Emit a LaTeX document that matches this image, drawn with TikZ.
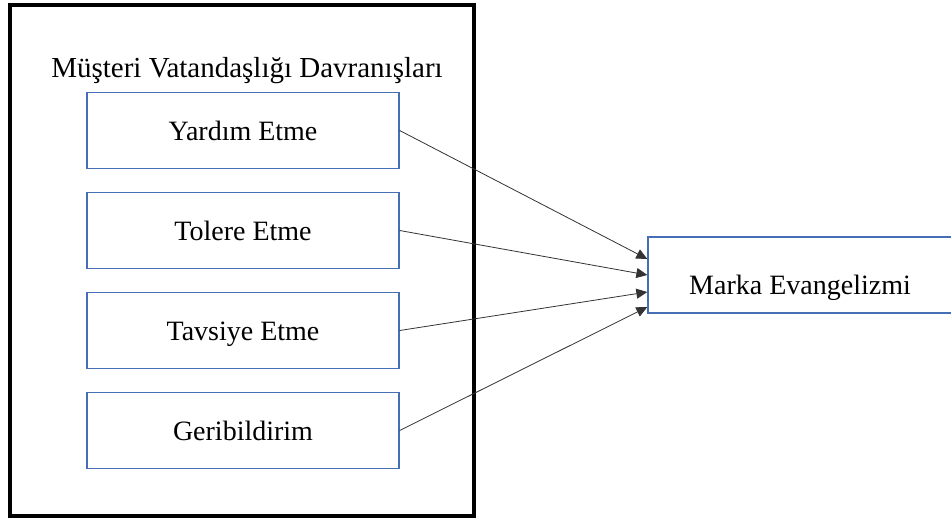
\documentclass[tikz,border=0pt]{standalone}
\usepackage{fontspec}
\setmainfont{Liberation Serif}
\usetikzlibrary{positioning, arrows.meta}
\definecolor{boxblue}{RGB}{70,110,180}

\begin{document}
\begin{tikzpicture}[x=1pt, y=1pt, node distance=100pt,
	item/.style={draw=boxblue, line width=1.3pt, minimum width=312pt, minimum height=76pt,
		inner sep=0pt, text height=20pt, text depth=0pt, font=\rmfamily\fontsize{28}{32}\selectfont},
	link/.style={-{Triangle[length=11pt,width=10pt]}, line width=0.8pt, draw=black!80}]
			\useasboundingbox (0,0) rectangle (951,-522);
			
			\node[draw, line width=4pt, minimum width=464.5pt, minimum height=511pt, inner sep=0pt] (cvb) at (241.75,-260.5) {};
			\node[anchor=base, font=\rmfamily\fontsize{29}{33}\selectfont] (title) at (247,-77) {Müşteri Vatandaşlığı Davranışları};
			
			\node[item] (yardim) at (243,-130.5) {Yardım Etme};
			\node[item, below of = yardim] (tolere) {Tolere Etme};
			\node[item, below of = tolere] (tavsiye) {Tavsiye Etme};
			\node[item, below of = tavsiye] (geri) {Geribildirim};
			
			\node[item, minimum width=304pt, text height=38pt] (marka) at (800,-275) {Marka Evangelizmi};
			
			\draw[link] (yardim.east) -- ([yshift=16pt]marka.west);
			\draw[link] (tolere.east) -- ([yshift=0pt]marka.west);
			\draw[link] (tavsiye.east) -- ([yshift=-17pt]marka.west);
			\draw[link] (geri.east) -- ([yshift=-32pt]marka.west);
			
\end{tikzpicture}
\end{document}
